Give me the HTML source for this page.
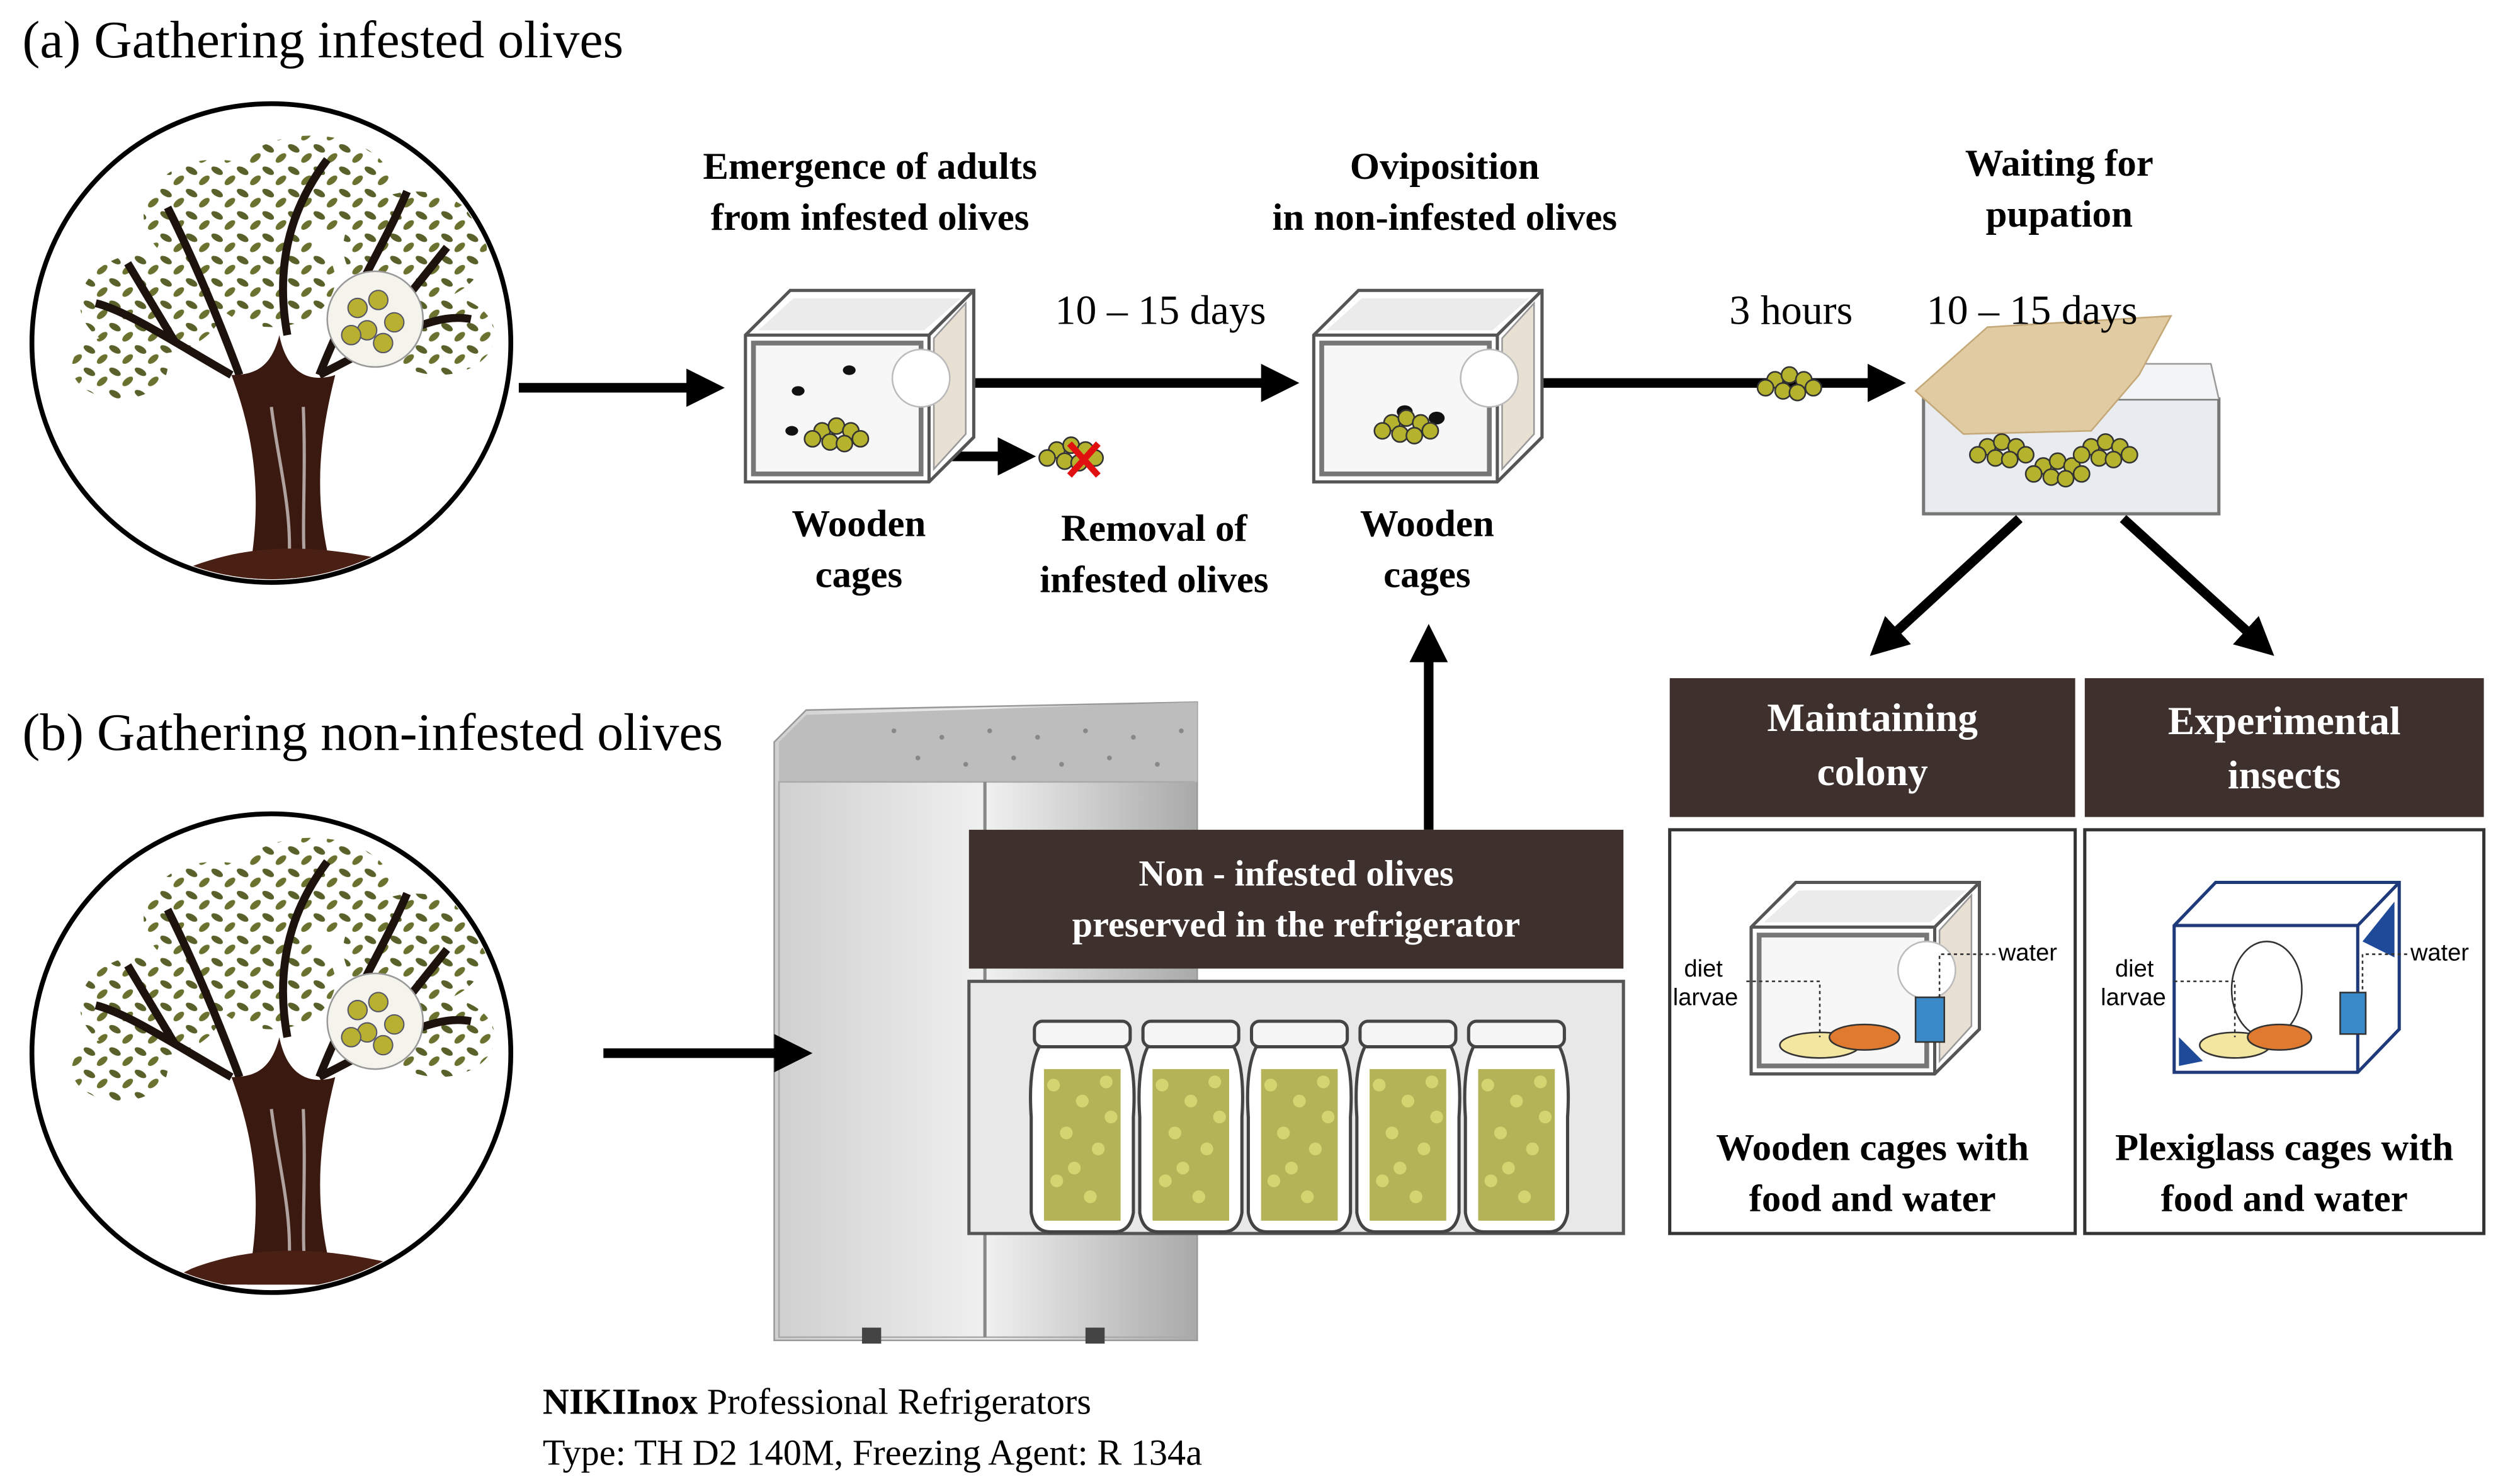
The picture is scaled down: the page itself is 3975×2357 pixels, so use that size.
<!DOCTYPE html>
<html><head><meta charset="utf-8"><style>
html,body{margin:0;padding:0;background:#fff}
svg{display:block}
text{font-family:"Liberation Serif",serif}
.b{font-weight:bold;font-size:24px}
.s{font-family:"Liberation Sans",sans-serif;font-size:15px}
</style></head><body>
<svg width="3975" height="2357" viewBox="0 0 1568 930" preserveAspectRatio="none" xmlns="http://www.w3.org/2000/svg">
<defs>
<marker id="ah" markerWidth="4" markerHeight="4" refX="2.5" refY="2" orient="auto" markerUnits="strokeWidth"><path d="M0,0 L4,2 L0,4 Z" fill="#000"/></marker>
<linearGradient id="fr" x1="0" x2="1"><stop offset="0" stop-color="#d0d0d0"/><stop offset="0.5" stop-color="#f0f0f0"/><stop offset="1" stop-color="#aaa"/></linearGradient>
<pattern id="lv" width="16" height="14" patternUnits="userSpaceOnUse">
<ellipse cx="4" cy="4" rx="4" ry="2" fill="#59602a" transform="rotate(30 4 4)"/>
<ellipse cx="12" cy="10" rx="4" ry="2" fill="#6b7230" transform="rotate(-40 12 10)"/>
</pattern>
<clipPath id="cc"><circle cx="0" cy="0" r="148"/></clipPath>
<g id="tree">
<g fill="url(#lv)">
<ellipse cx="-85" cy="-25" rx="45" ry="32"/><ellipse cx="-45" cy="-80" rx="45" ry="35"/>
<ellipse cx="15" cy="-100" rx="50" ry="30"/><ellipse cx="80" cy="-60" rx="45" ry="35"/>
<ellipse cx="95" cy="-5" rx="35" ry="25"/><ellipse cx="-105" cy="15" rx="30" ry="20"/>
<ellipse cx="-10" cy="-40" rx="40" ry="30"/>
</g>
<path d="M-35,20 C-70,0 -100,-20 -120,-25 M-30,20 C-45,-20 -60,-55 -75,-85 M20,20 C60,0 90,-20 115,-15 M0,-5 C-10,-60 10,-95 25,-115 M20,20 C40,-30 60,-60 75,-95 M-70,0 L-100,-50 M60,-10 L100,-60" stroke="#1e120c" stroke-width="5" fill="none"/>
<path d="M-35,20 C-20,60 -15,100 -25,150 L30,150 C15,100 20,60 30,20 C15,25 0,20 -5,-5 C-10,15 -20,20 -35,20Z" fill="#3a1a10"/>
<path d="M-10,40 C-5,80 5,110 0,150 M10,40 C12,90 8,120 12,150" stroke="#fff" stroke-width="2" fill="none" opacity=".6"/>
<path d="M-60,140 C-20,125 20,125 80,140 L100,150 L-80,150Z" fill="#4a1f14"/>
<circle cx="55" cy="-15" r="30" fill="#f4f4ec" stroke="#999"/>
<g fill="#b8b030" stroke="#556" stroke-width=".8"><circle cx="44" cy="-22" r="6"/><circle cx="57" cy="-27" r="6"/><circle cx="67" cy="-13" r="6"/><circle cx="50" cy="-8" r="6"/><circle cx="60" cy="0" r="6"/><circle cx="40" cy="-5" r="6"/></g>
</g>
<g id="olv" fill="#b5b22e" stroke="#333" stroke-width="1"><circle cx="0" cy="0" r="5"/><circle cx="9" cy="-3" r="5"/><circle cx="18" cy="0" r="5"/><circle cx="5" cy="7" r="5"/><circle cx="14" cy="8" r="5"/><circle cx="24" cy="5" r="5"/><circle cx="-6" cy="5" r="5"/></g>
<g id="cage">
<path d="M0,28 L28,0 L143,0 L143,92 L115,120 L0,120Z" fill="#fff" stroke="#555" stroke-width="2"/>
<rect x="5" y="33" width="105" height="82" fill="#f7f7f7" stroke="#777" stroke-width="3"/>
<path d="M0,28 L115,28 L143,0 M115,28 L115,120" fill="none" stroke="#555" stroke-width="2"/>
<path d="M118,30 L138,8 L138,90 L118,112Z" fill="#e9e0d4" stroke="#999"/>
<circle cx="110" cy="55" r="18" fill="#fff" stroke="#bbb"/>
<path d="M30,5 L135,5 L112,25 L8,25Z" fill="#ddd" opacity=".6"/>
</g>
<g id="jar">
<rect x="0" y="0" width="60" height="16" rx="5" fill="#f5f5f5" stroke="#444" stroke-width="2"/>
<path d="M3,16 L57,16 Q64,30 62,60 L62,120 Q60,132 50,132 L10,132 Q0,132 -2,120 L-2,60 Q-4,30 3,16Z" fill="#fff" stroke="#444" stroke-width="2"/>
<rect x="6" y="30" width="48" height="95" fill="#a7a63a" opacity=".85"/>
<g fill="#d8d873" opacity=".9"><circle cx="12" cy="40" r="4"/><circle cx="30" cy="50" r="4"/><circle cx="45" cy="38" r="4"/><circle cx="20" cy="70" r="4"/><circle cx="40" cy="80" r="4"/><circle cx="14" cy="100" r="4"/><circle cx="35" cy="110" r="4"/><circle cx="48" cy="60" r="4"/><circle cx="25" cy="92" r="4"/></g>
</g>
</defs>

<text x="14" y="36" font-size="33">(a) Gathering infested olives</text>
<text x="14" y="470" font-size="33">(b) Gathering non-infested olives</text>

<circle cx="170" cy="215" r="150" fill="#fff" stroke="#000" stroke-width="3"/>
<g transform="translate(170,215)" clip-path="url(#cc)"><use href="#tree" x="10" y="0"/></g>
<circle cx="170" cy="660" r="150" fill="#fff" stroke="#000" stroke-width="3"/>
<g transform="translate(170,660)" clip-path="url(#cc)"><use href="#tree" x="10" y="-5"/></g>

<!-- fridge -->
<path d="M485,465 L505,445 L750,440 L750,840 L485,840Z" fill="url(#fr)" stroke="#999"/>
<path d="M505,448 L750,440 L750,490 L488,490 L488,465Z" fill="#bdbdbd"/>
<g fill="#888"><circle cx="560" cy="458" r="1.5"/><circle cx="590" cy="462" r="1.5"/><circle cx="620" cy="458" r="1.5"/><circle cx="650" cy="462" r="1.5"/><circle cx="680" cy="458" r="1.5"/><circle cx="710" cy="462" r="1.5"/><circle cx="740" cy="458" r="1.5"/><circle cx="575" cy="475" r="1.5"/><circle cx="605" cy="479" r="1.5"/><circle cx="635" cy="475" r="1.5"/><circle cx="665" cy="479" r="1.5"/><circle cx="695" cy="475" r="1.5"/><circle cx="725" cy="479" r="1.5"/></g>
<rect x="488" y="490" width="260" height="348" fill="url(#fr)" stroke="#aaa"/>
<line x1="617" y1="490" x2="617" y2="838" stroke="#888" stroke-width="2"/>
<rect x="540" y="832" width="12" height="10" fill="#444"/><rect x="680" y="832" width="12" height="10" fill="#444"/>

<g stroke="#000" stroke-width="6" fill="none">
<line x1="325" y1="243" x2="445" y2="243" marker-end="url(#ah)"/>
<line x1="610" y1="240" x2="805" y2="240" marker-end="url(#ah)"/>
<line x1="578" y1="286" x2="640" y2="286" marker-end="url(#ah)"/>
<line x1="965" y1="240" x2="1185" y2="240" marker-end="url(#ah)"/>
<line x1="378" y1="660" x2="500" y2="660" marker-end="url(#ah)"/>
<line x1="895" y1="520" x2="895" y2="400" marker-end="url(#ah)"/>
<line x1="1265" y1="325" x2="1178" y2="405" marker-end="url(#ah)"/>
<line x1="1330" y1="325" x2="1418" y2="405" marker-end="url(#ah)"/>
</g>

<use href="#cage" x="467" y="182"/>
<use href="#cage" x="823" y="182"/>
<g fill="#111"><ellipse cx="500" cy="245" rx="4" ry="3"/><ellipse cx="532" cy="232" rx="4" ry="3"/><ellipse cx="496" cy="270" rx="4" ry="3"/><ellipse cx="880" cy="258" rx="5" ry="4"/><ellipse cx="900" cy="262" rx="5" ry="4"/></g>
<use href="#olv" x="515" y="270"/>
<use href="#olv" x="872" y="265"/>
<use href="#olv" x="662" y="282"/>
<path d="M670,278 L688,298 M688,278 L670,298" stroke="#e01010" stroke-width="4"/>
<use href="#olv" x="1112" y="238"/>

<text class="b" x="545" y="112" text-anchor="middle">Emergence of adults</text>
<text class="b" x="545" y="144" text-anchor="middle">from infested olives</text>
<text class="b" x="905" y="112" text-anchor="middle">Oviposition</text>
<text class="b" x="905" y="144" text-anchor="middle">in non-infested olives</text>
<text class="b" x="1290" y="110" text-anchor="middle">Waiting for</text>
<text class="b" x="1290" y="142" text-anchor="middle">pupation</text>
<text class="b" x="538" y="336" text-anchor="middle">Wooden</text>
<text class="b" x="538" y="368" text-anchor="middle">cages</text>
<text class="b" x="894" y="336" text-anchor="middle">Wooden</text>
<text class="b" x="894" y="368" text-anchor="middle">cages</text>
<text class="b" x="723" y="339" text-anchor="middle">Removal of</text>
<text class="b" x="723" y="371" text-anchor="middle">infested olives</text>

<!-- tray -->
<path d="M1205,250 L1390,250 L1390,322 L1205,322Z" fill="#e8ecf0" stroke="#777" stroke-width="2"/>
<path d="M1205,250 L1225,228 L1385,228 L1390,250" fill="#f2f4f6" stroke="#999"/>
<path d="M1200,245 L1245,205 L1360,198 L1340,235 L1310,270 L1230,272Z" fill="#e0cba2" stroke="#c4a878"/>
<use href="#olv" x="1245" y="280"/><use href="#olv" x="1280" y="292"/><use href="#olv" x="1310" y="280"/>
<text x="727" y="203" font-size="26" text-anchor="middle">10 – 15 days</text>
<text x="1122" y="203" font-size="26" text-anchor="middle">3 hours</text>
<text x="1273" y="203" font-size="26" text-anchor="middle">10 – 15 days</text>

<rect x="607" y="520" width="410" height="87" fill="#3d302d"/>
<text x="812" y="555" font-size="23" font-weight="bold" fill="#fff" text-anchor="middle">Non - infested olives</text>
<text x="812" y="587" font-size="23" font-weight="bold" fill="#fff" text-anchor="middle">preserved in the refrigerator</text>
<rect x="607" y="615" width="410" height="158" fill="#e8e8e8" stroke="#555" stroke-width="2"/>
<use href="#jar" x="648" y="640"/><use href="#jar" x="716" y="640"/><use href="#jar" x="784" y="640"/><use href="#jar" x="852" y="640"/><use href="#jar" x="920" y="640"/>

<text x="340" y="886" font-size="23"><tspan font-weight="bold">NIKIInox</tspan> Professional Refrigerators</text>
<text x="340" y="918" font-size="23">Type: TH D2 140M, Freezing Agent: R 134a</text>

<!-- right boxes -->
<rect x="1046" y="425" width="254" height="87" fill="#3d302d"/>
<rect x="1306" y="425" width="250" height="87" fill="#3d302d"/>
<text x="1173" y="458" font-size="25" font-weight="bold" fill="#fff" text-anchor="middle">Maintaining</text>
<text x="1173" y="492" font-size="25" font-weight="bold" fill="#fff" text-anchor="middle">colony</text>
<text x="1431" y="460" font-size="25" font-weight="bold" fill="#fff" text-anchor="middle">Experimental</text>
<text x="1431" y="494" font-size="25" font-weight="bold" fill="#fff" text-anchor="middle">insects</text>
<rect x="1046" y="520" width="254" height="253" fill="#fff" stroke="#333" stroke-width="2"/>
<rect x="1306" y="520" width="250" height="253" fill="#fff" stroke="#333" stroke-width="2"/>
<use href="#cage" x="1097" y="553"/>
<ellipse cx="1140" cy="655" rx="25" ry="8" fill="#f3e6a0" stroke="#333"/><ellipse cx="1168" cy="650" rx="22" ry="8" fill="#e07a30" stroke="#333"/>
<rect x="1200" y="625" width="18" height="28" fill="#3a8ac9" stroke="#333"/>
<path d="M1362,580 L1388,553 L1503,553 L1503,645 L1477,672 L1362,672Z" fill="#fff" stroke="#1f3a7a" stroke-width="2"/>
<path d="M1362,580 L1477,580 L1503,553 M1477,580 L1477,672" fill="none" stroke="#1f3a7a" stroke-width="2"/>
<path d="M1480,590 L1500,565 L1500,600Z" fill="#1f4a9a"/><path d="M1365,650 L1380,665 L1365,668Z" fill="#1f4a9a"/>
<ellipse cx="1420" cy="620" rx="22" ry="30" fill="none" stroke="#333"/>
<ellipse cx="1400" cy="655" rx="22" ry="8" fill="#f3e6a0" stroke="#333"/><ellipse cx="1428" cy="650" rx="20" ry="8" fill="#e07a30" stroke="#333"/>
<rect x="1466" y="622" width="16" height="26" fill="#3a8ac9" stroke="#333"/>
<g stroke="#333" stroke-dasharray="2,2" fill="none"><path d="M1094,615 L1140,615 L1140,650"/><path d="M1250,598 L1215,598 L1215,625"/><path d="M1362,615 L1400,615 L1400,650"/><path d="M1508,598 L1480,598 L1480,622"/></g>
<text class="s" x="1055" y="612">diet</text><text class="s" x="1048" y="630">larvae</text><text class="s" x="1252" y="602">water</text>
<text class="s" x="1325" y="612">diet</text><text class="s" x="1316" y="630">larvae</text><text class="s" x="1510" y="602">water</text>
<text class="b" x="1173" y="727" text-anchor="middle">Wooden cages with</text>
<text class="b" x="1173" y="759" text-anchor="middle">food and water</text>
<text class="b" x="1431" y="727" text-anchor="middle">Plexiglass cages with</text>
<text class="b" x="1431" y="759" text-anchor="middle">food and water</text>
</svg>
</body></html>
